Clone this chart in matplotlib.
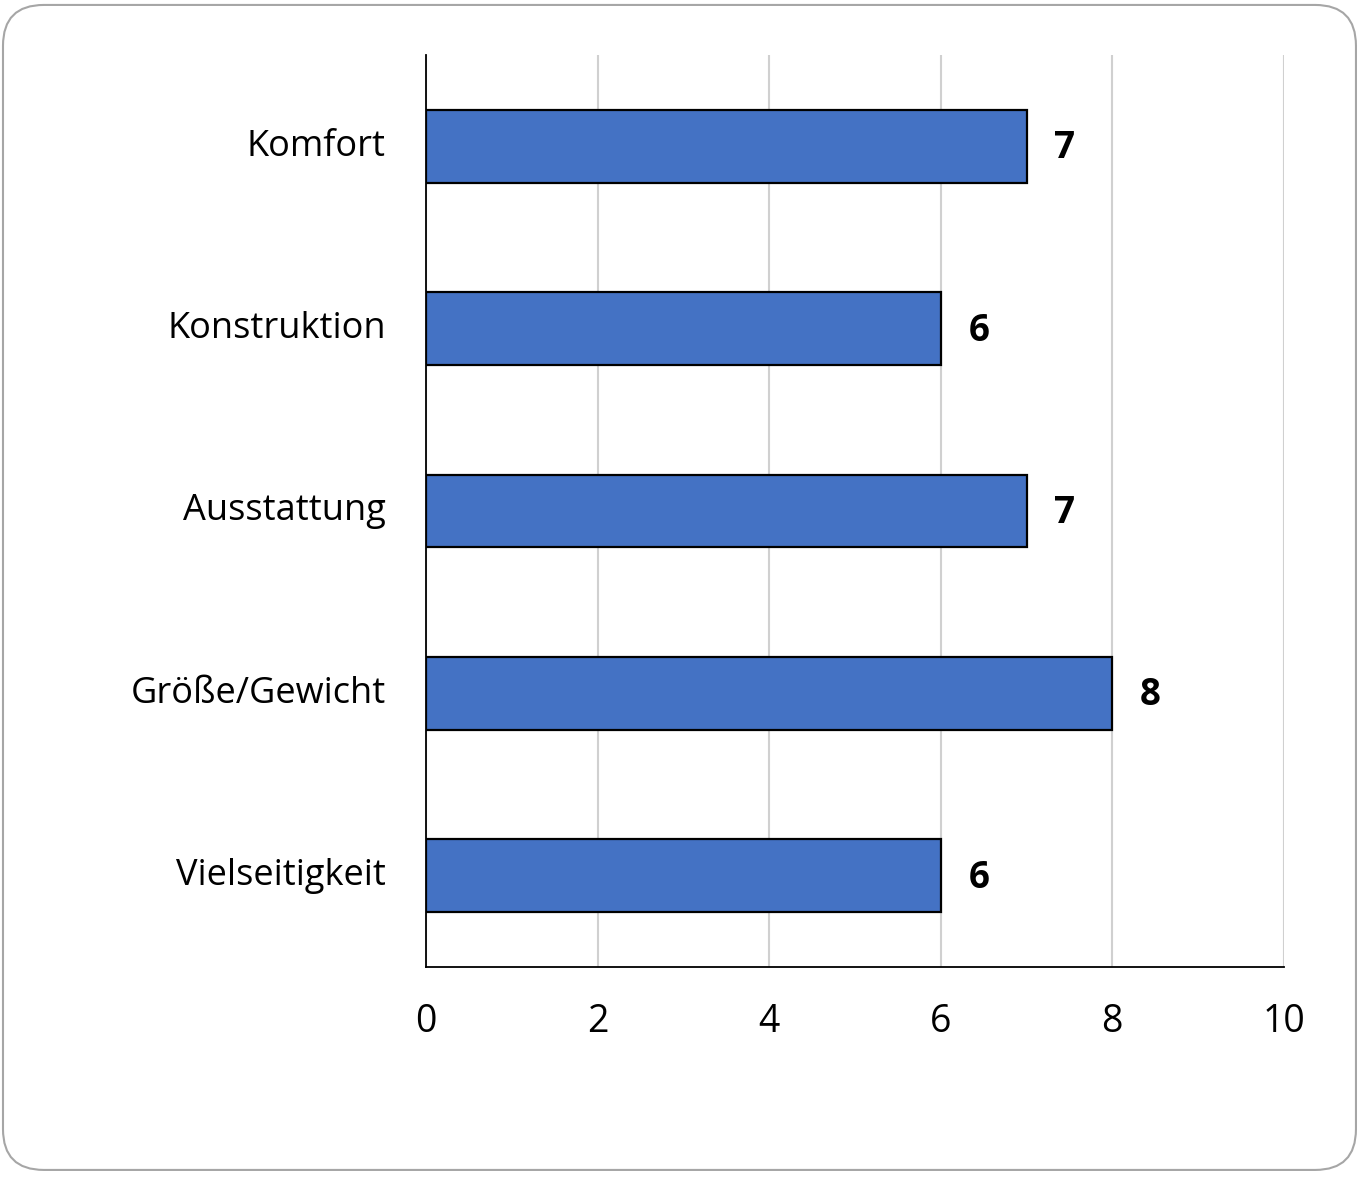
import matplotlib.pyplot as plt
import matplotlib.transforms as mtransforms
from matplotlib.patches import FancyBboxPatch

plt.rcParams['font.family'] = ['Open Sans', 'DejaVu Sans']

categories = ["Komfort", "Konstruktion", "Ausstattung", "Größe/Gewicht", "Vielseitigkeit"]
values = [7, 6, 7, 8, 6]
x_ticks = [0, 2, 4, 6, 8, 10]

fig = plt.figure(figsize=(13.61, 11.77), dpi=100)

# rounded frame around the whole chart
frame = FancyBboxPatch((0.0022, 0.0060), 0.9941, 0.9898,
                       boxstyle="round,pad=0,rounding_size=0.03",
                       transform=fig.transFigure, facecolor='none',
                       edgecolor='#a6a6a6', linewidth=1.5, mutation_aspect=1361/1177,
                       zorder=-1)
fig.patches.append(frame)

ax = fig.add_axes([0.313, 0.1784, 0.6304, 0.7749])
ax.set_facecolor('none')

ypos = list(range(len(categories)))
bars = ax.barh(ypos, values, height=0.4, color='#4472C4', edgecolor='black', linewidth=1.6, zorder=3)

for bar, v in zip(bars, values):
    ax.annotate(str(v), (bar.get_width(), bar.get_y() + bar.get_height() / 2),
                xytext=(20, -1.5), textcoords='offset points', ha='left', va='center',
                fontsize=26.5, fontweight='bold')

ax.set_xlim(0, 10)
ax.set_ylim(len(categories) - 0.5, -0.5)
ax.set_xticks(x_ticks)
ax.set_yticks(ypos)
ax.set_yticklabels(categories)
ax.tick_params(axis='both', length=0)
ax.tick_params(axis='x', pad=26, labelsize=27)
ax.tick_params(axis='y', pad=29, labelsize=26)
shift_up = mtransforms.ScaledTranslation(0, 4 / 100, fig.dpi_scale_trans)
for lbl in ax.get_yticklabels():
    lbl.set_va('center_baseline')
    lbl.set_transform(lbl.get_transform() + shift_up)

ax.grid(axis='x', color='#d0d0d0', linewidth=1.5, zorder=0)
for side in ['top', 'right']:
    ax.spines[side].set_visible(False)
for side in ['left', 'bottom']:
    ax.spines[side].set_linewidth(1.3)
    ax.spines[side].set_zorder(4)

fig.savefig('out.png', dpi=100)
